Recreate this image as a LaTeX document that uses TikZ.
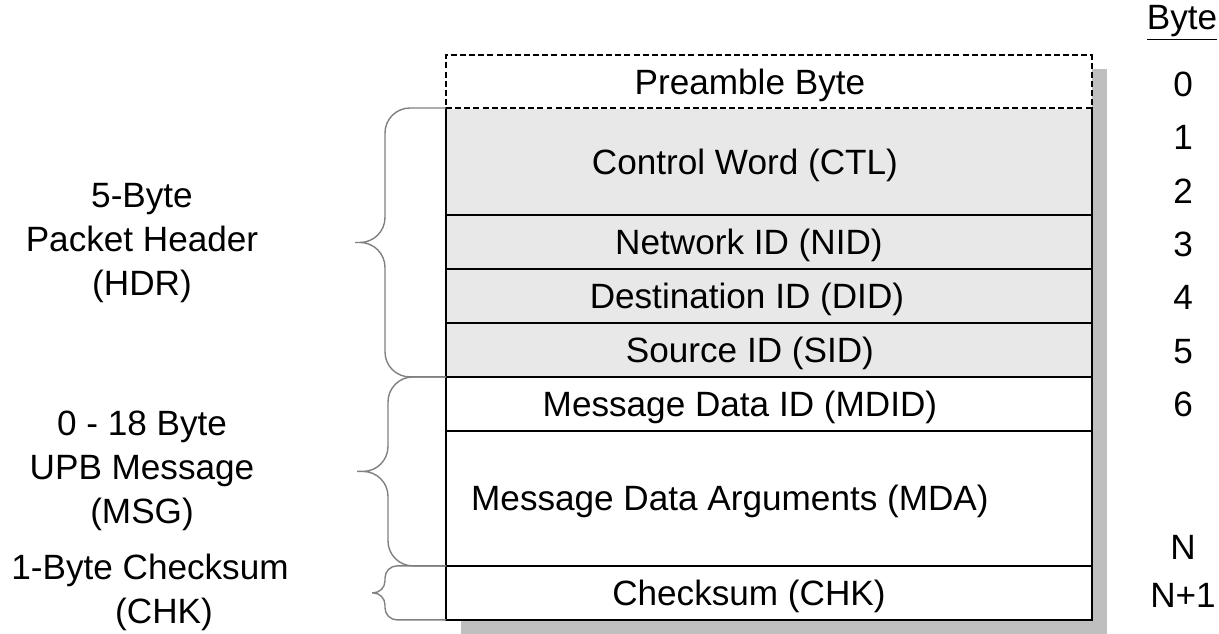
\documentclass[tikz,border=0pt]{standalone}
\usepackage{fontspec}
\setmainfont{Liberation Sans}
\usetikzlibrary{positioning, calc, backgrounds}
\tikzset{
  packet/.style={
	x=0.02cm, y=-0.02cm, % one unit is one pixel, y grows downwards
	node distance=0pt, % the fields are stacked with no gap
	every node/.style={font=\fontsize{20}{25}\selectfont},
	field/.style={draw, line width=1.1pt, rectangle, minimum width=12.92cm, inner sep=0pt, outer sep=0pt, fill=white},
	header/.style={field, fill=gray!18}, % grey fields belong to the header
	dashfield/.style={dash pattern=on 3.4pt off 1.8pt}, % the optional preamble
	fieldtext/.style={inner sep=0pt, text height=14.3pt, text depth=0pt},
	hbrace/.style={draw=gray, line width=0.8pt, rounded corners=0.5cm},
	dropshade/.style={fill=gray!50},
  }
}
\begin{document}
\begin{tikzpicture}[packet]
\useasboundingbox (0,0) rectangle (1219,634);
% fields, top to bottom
\node[field, dashfield, minimum height=1.06cm, anchor=north west] (pre) at (446,55) {};
\node[header, minimum height=2.14cm, below=of pre] (ctl) {};
\node[header, minimum height=1.08cm, below=of ctl] (nid) {};
\node[header, minimum height=1.08cm, below=of nid] (did) {};
\node[header, minimum height=1.08cm, below=of did] (sid) {};
\node[field, minimum height=1.08cm, below=of sid] (mdid) {};
\node[field, minimum height=2.7cm, below=of mdid] (mda) {};
\node[field, minimum height=1.08cm, below=of mda] (chk) {};
% the line between preamble and control word stays dashed
\draw[white, line width=1.1pt] (pre.south west) -- (pre.south east);
\draw[dashfield, line width=1.1pt] (pre.south west) -- (pre.south east);
\begin{scope}[on background layer]
\fill[dropshade] ($(pre.north west)+(15,14)$) rectangle ($(chk.south east)+(15,14)$);
\end{scope}

\node[fieldtext, at=(pre), xshift=-0.38cm] (pre-t) {Preamble Byte};
\node[fieldtext, at=(ctl), xshift=-0.48cm] (ctl-t) {Control Word (CTL)};
\node[fieldtext, at=(nid), xshift=-0.4cm] (nid-t) {Network ID (NID)};
\node[fieldtext, at=(did), xshift=-0.44cm] (did-t) {Destination ID (DID)};
\node[fieldtext, at=(sid), xshift=-0.38cm] (sid-t) {Source ID (SID)};
\node[fieldtext, at=(mdid), xshift=-0.58cm] (mdid-t) {Message Data ID (MDID)};
\node[fieldtext, at=(mda), xshift=-0.78cm] (mda-t) {Message Data Arguments (MDA)};
\node[fieldtext, at=(chk), xshift=-0.4cm] (chk-t) {Checksum (CHK)};

% byte numbers
\node[anchor=base] (byte-head) at (1182,30) {\underline{Byte}};
\foreach \b/\y [count=\i] in {0/84, 1/137, 2/191, 3/244, 4/297, 5/351, 6/404, N/547, N+1/595}
  \node[fieldtext] (byte-\i) at (1183,\y) {\b};

% groups on the left
\node[align=center] (hdr) at (142,243) {5-Byte\\Packet Header\\(HDR)};
\node[align=center] (msg) at (142,471) {0 - 18 Byte\\UPB Message\\(MSG)};
\node[align=center] (chk-l) at (150,592) {1-Byte Checksum\\\hspace*{0.56cm}(CHK)};

\coordinate (hdr-tip) at ($(ctl.north west)!.5!(sid.south west)+(-91,0)$);
\coordinate (msg-tip) at ($(mdid.north west)!.5!(mda.south west)+(-89,0)$);
\coordinate (chk-tip) at ($(chk.north west)!.5!(chk.south west)+(-74,0)$);
\draw[hbrace] (ctl.north west) -| ([xshift=0.6cm]hdr-tip) -- (hdr-tip)
	(sid.south west) -| ([xshift=0.6cm]hdr-tip) -- (hdr-tip);
\draw[hbrace] (mdid.north west) -| ([xshift=0.62cm]msg-tip) -- (msg-tip)
	(mda.south west) -| ([xshift=0.62cm]msg-tip) -- (msg-tip);
\draw[hbrace, rounded corners=0.24cm] (chk.north west) -| ([xshift=0.26cm]chk-tip) -- (chk-tip)
	(chk.south west) -| ([xshift=0.26cm]chk-tip) -- (chk-tip);
\end{tikzpicture}
\end{document}
